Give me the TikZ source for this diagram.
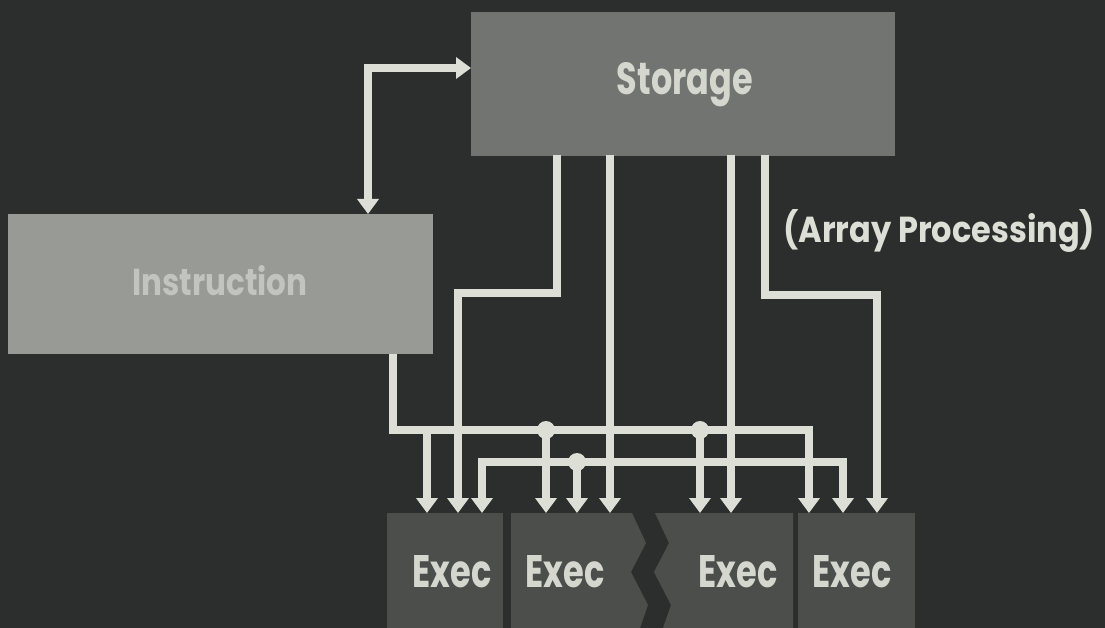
\documentclass[tikz,border=0pt]{standalone}
\usepackage{fontspec}
\usepackage{graphicx}
\setmainfont{Poppins}
\usetikzlibrary{arrows.meta}
\definecolor{bg}{HTML}{2B2E2C}
\definecolor{storc}{HTML}{717470}
\definecolor{instc}{HTML}{979A95}
\definecolor{insttxt}{HTML}{C2C5BF}
\definecolor{stortxt}{HTML}{D5D7CF}
\definecolor{execc}{HTML}{4B4E4B}
\definecolor{wirec}{HTML}{DDDFD6}
\begin{document}
\begin{tikzpicture}[x=1pt,y=-1pt,
  >={Triangle[width=21pt,length=15pt]},
  wire/.style={draw=wirec, line width=8pt, line join=miter},
  box/.style={rectangle, inner sep=0pt, draw=none},
  jdot/.style={circle, fill=wirec, inner sep=0pt, minimum size=18pt},
  lbl/.style={anchor=base, inner sep=0pt}]
\useasboundingbox[fill=bg] (0,0) rectangle (1105,628);
% main boxes
\node[box, fill=storc, minimum width=424pt, minimum height=144pt] (storage) at (683,84) {};
\node[box, fill=instc, minimum width=425pt, minimum height=140pt] (instr) at (220.5,284) {};
% exec units
\node[box, fill=execc, anchor=north west, minimum width=116pt, minimum height=115pt] (exec1) at (387,513) {};
\fill[execc] (511,513) -- (632,513) -- (646,543) -- (631,572) -- (648,605) -- (640,628) -- (511,628) -- cycle;
\fill[execc] (655,513) -- (793,513) -- (793,628) -- (663,628) -- (671,605) -- (654,572) -- (669,543) -- cycle;
\node[box, fill=execc, anchor=north west, minimum width=117pt, minimum height=115pt] (exec4) at (798,513) {};
% labels
\node[lbl, text=stortxt] (storlbl) at (685,95) {\resizebox{136pt}{32pt}{\bfseries Storage}};
\node[lbl, text=insttxt] (instlbl) at (220,295) {\resizebox{175pt}{30pt}{\bfseries Instruction}};
\node[lbl, anchor=base west, text=wirec] (arrlbl) at (783,243) {\resizebox{312pt}{33pt}{\bfseries (Array Processing)}};
\node[lbl, text=stortxt] (x1) at (452,587) {\resizebox{79pt}{32pt}{\bfseries Exec}};
\node[lbl, text=stortxt] (x2) at (565,587) {\resizebox{79pt}{32pt}{\bfseries Exec}};
\node[lbl, text=stortxt] (x3) at (738,587) {\resizebox{79pt}{32pt}{\bfseries Exec}};
\node[lbl, text=stortxt] (x4) at (852,587) {\resizebox{79pt}{32pt}{\bfseries Exec}};
% named points
\coordinate (dA) at (368,214);
\coordinate (dB) at (471,68);
\coordinate (i0) at (393,354);
\coordinate (r1e) at (809,430);
\coordinate (t1a) at (427,513); \coordinate (t1b) at (458,513); \coordinate (t1c) at (482,513);
\coordinate (t2a) at (546,513); \coordinate (t2b) at (577,513); \coordinate (t2c) at (610,513);
\coordinate (t3a) at (700,513); \coordinate (t3b) at (731,513);
\coordinate (t4a) at (809,513); \coordinate (t4b) at (843,513); \coordinate (t4c) at (877,513);
\coordinate (b1) at (427,430); \coordinate (j1) at (546,430); \coordinate (j2) at (700,430);
\coordinate (r2e) at (843,462); \coordinate (j3) at (577,462);
\coordinate (s1) at (557,155); \coordinate (s1k) at (458,293);
\coordinate (s2) at (610,155); \coordinate (s3) at (731,155);
\coordinate (s4) at (765,155); \coordinate (s4k) at (877,295);
% connectors
\draw[wire, <->] (dA) |- (dB);
\draw[wire, ->] (i0) |- (r1e) -- (t4a);
\draw[wire, ->] (b1) -- (t1a);
\draw[wire, ->] (j1) -- (t2a);
\draw[wire, ->] (j2) -- (t3a);
\draw[wire, <->] (t1c) |- (r2e) -- (t4b);
\draw[wire, ->] (j3) -- (t2b);
\draw[wire, ->] (s1) |- (s1k) -- (t1b);
\draw[wire, ->] (s2) -- (t2c);
\draw[wire, ->] (s3) -- (t3b);
\draw[wire, ->] (s4) |- (s4k) -- (t4c);
\node[jdot] (d1) at (j1) {};
\node[jdot] (d2) at (j2) {};
\node[jdot] (d3) at (j3) {};
\end{tikzpicture}
\end{document}
